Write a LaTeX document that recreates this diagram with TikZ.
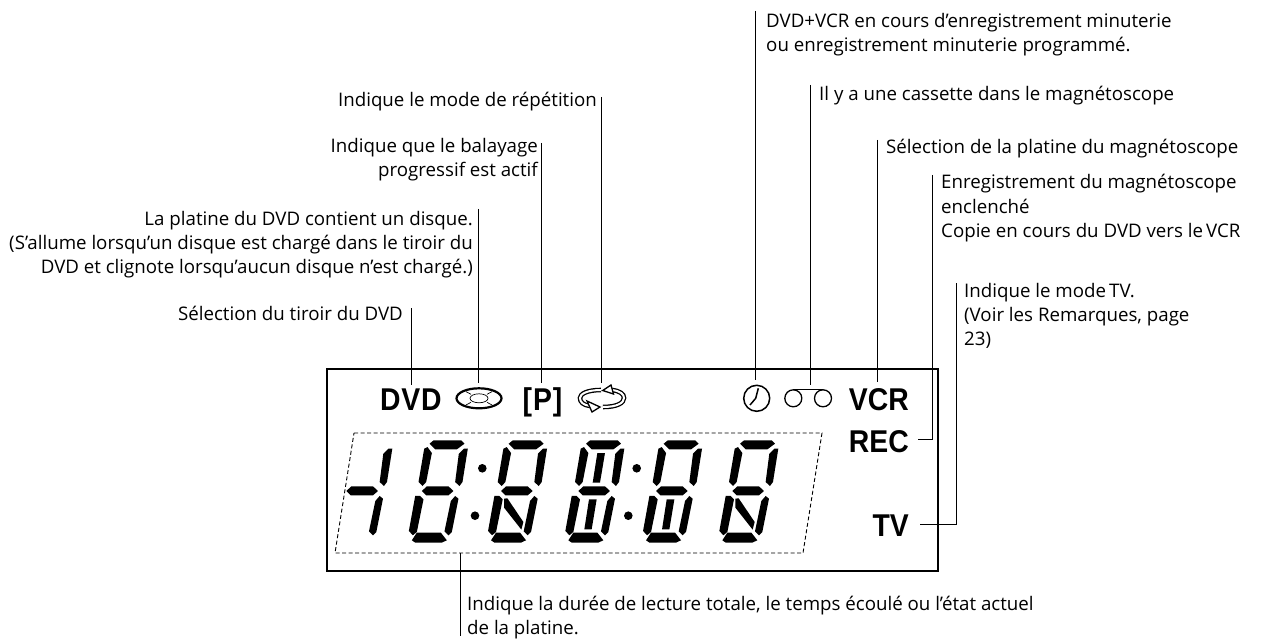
\documentclass[tikz,border=0pt]{standalone}
\usepackage{fontspec}
\setmainfont{Open Sans}
\newfontfamily\lcdfont[FakeStretch=0.9]{Liberation Sans}

\tikzset{
  leader/.style={line width=1pt},
  caption/.style={inner sep=0pt, font=\fontsize{18.7}{24}\selectfont},
  capleft/.style={caption, anchor=base west, align=left},
  capright/.style={caption, anchor=base east, align=right},
  lcdlabel/.style={inner sep=0pt, font=\lcdfont\bfseries\fontsize{31.5}{32}\selectfont},
  iconline/.style={line width=2.2pt},
  ribbon/.style={line width=1.3pt, double=white, double distance=2pt},
}

% segments of one digit, drawn at a scale of 1/3
\newcommand{\segtop}{\fill (-24,-142) -- (-12,-152) -- (71,-152) -- (81,-142) -- (58,-125) -- (-7,-125) -- cycle;}
\newcommand{\segul}{\fill (-40,-127) -- (-30,-132) -- (-17,-114) -- (-34,-27) -- (-45,-15) -- (-57,-27) -- cycle;}
\newcommand{\segur}{\fill (79,-127) -- (91,-127) -- (75,-27) -- (66,-15) -- (53,-27) -- (64,-112) -- cycle;}
\newcommand{\segmid}{\fill (-47,0) -- (-32,-14) -- (33,-14) -- (48,0) -- (33,13) -- (-34,13) -- cycle;}
\newcommand{\segll}{\fill (-67,15) -- (-52,15) -- (-42,25) -- (-62,123) -- (-74,133) -- (-86,120) -- cycle;}
\newcommand{\seglr}{\fill (53,15) -- (63,23) -- (43,123) -- (33,133) -- (21,121) -- (40,30) -- cycle;}
\newcommand{\segbot}{\fill (-77,148) -- (-62,125) -- (10,125) -- (28,148) -- (13,155) -- (-67,155) -- cycle;}
\newcommand{\segdiag}{\fill (-38,23) -- (-28,22) -- (20,93) -- (14,116) -- (-38,50) -- cycle;}
\newcommand{\segbarup}{\fill (10,-114) -- (33,-114) -- (18,-25) -- (-4,-25) -- cycle;}
\newcommand{\segbarlow}{\fill (-15,25) -- (8,25) -- (-7,115) -- (-29,115) -- cycle;}
\newcommand{\segall}{\segtop\segul\segur\segmid\segll\seglr\segbot}

\begin{document}
\begin{tikzpicture}[x=1pt,y=-1pt]
\useasboundingbox (0,0) rectangle (1272,639);

% display
\draw[line width=2.6pt] (327,369) rectangle (938,571);
\draw[line width=0.9pt, dash pattern=on 4pt off 2.5pt] (354,433) -- (822,433) -- (803,553) -- (335,553) -- cycle;

% digits
\begin{scope}[shift={(362,491)}, x=0.333pt, y=-0.333pt] \segur\segmid\seglr \end{scope}
\foreach \digitx in {437.5,516.7,594,671.7,748}
  \begin{scope}[shift={(\digitx,491)}, x=0.333pt, y=-0.333pt] \segall \end{scope};
\begin{scope}[shift={(516.7,491)}, x=0.333pt, y=-0.333pt] \segdiag \end{scope}
\begin{scope}[shift={(594,491)}, x=0.333pt, y=-0.333pt] \segbarup\segbarlow \end{scope}
\begin{scope}[shift={(671.7,491)}, x=0.333pt, y=-0.333pt] \segbarlow \end{scope}
\begin{scope}[shift={(748,491)}, x=0.333pt, y=-0.333pt] \segdiag \end{scope}
\foreach \dotx/\doty in {482.3/468.3,475/515.7,636.7/468.3,628.3/515.7}
  \fill (\dotx,\doty) circle (4.3);

% labels inside the display
\node[lcdlabel, anchor=base west] at (380,410) (dvd) {D\kern0.8pt V\kern0.8pt D};
\node[lcdlabel, anchor=base] at (542.5,410) (prog) {[\kern1pt P\kern1pt]};
\node[lcdlabel, anchor=base east] at (909,410) (vcr) {VCR};
\node[lcdlabel, anchor=base east] at (909,452) (rec) {REC};
\node[lcdlabel, anchor=base east] at (909,536) (tv) {TV};

% disc
\draw[iconline] (479,398.3) ellipse (22.5 and 10);
\draw[line width=0.7pt] (479,398.3) ellipse (9 and 4.5);
\draw[line width=0.7pt] (466,391.6) -- (471,394.3) (492,391.6) -- (487,394.3)
  (466,405) -- (471,402.3) (492,405) -- (487,402.3);

% repeat
\draw[ribbon] (601,390) .. controls (587,390) and (580,394) .. (580,398) .. controls (580,402) and (583,405) .. (590,406);
\draw[ribbon] (603,407) .. controls (617,407) and (624,403) .. (624,398) .. controls (624,394) and (620,391) .. (612,390);
\draw[line width=1.3pt, fill=white] (600,407) -- (587,401) -- (592,412) -- cycle;
\draw[line width=1.3pt, fill=white] (602.7,390.5) -- (611,385) -- (613.5,394) -- cycle;

% clock
\draw[line width=1.5pt] (756.7,398.3) circle (13);
\draw[line width=1.5pt] (758.3,388.3) -- (755.7,398.3) -- (750,405);

% tape
\draw[line width=1.3pt] (793.3,398.3) circle (8.5) (823,398.3) circle (8.5);
\draw[line width=1.3pt] (793.3,389.5) -- (823,389.5);

% captions
\node[capright] at (597,107) (repeatcap) {Indique le mode de répétition};
\node[capright] at (538,177) (progcap) {Indique que le balayage\\progressif est actif};
\node[capright] at (473,273) (disccap) {La platine du DVD contient un disque.\\(S'allume lorsqu'un disque est chargé dans le tiroir du\\DVD et clignote lorsqu'aucun disque n'est chargé.)};
\node[capright] at (403,320) (dvdcap) {Sélection du tiroir du DVD};
\node[capleft] at (766,52) (clockcap) {DVD+VCR en cours d'enregistrement minuterie\\ou enregistrement minuterie programmé.};
\node[capleft] at (819,101) (tapecap) {Il y a une cassette dans le magnétoscope};
\node[capleft] at (886,154) (vcrcap) {Sélection de la platine du magnétoscope};
\node[capleft] at (941,237) (reccap) {Enregistrement du magnétoscope\\enclenché\\Copie en cours du DVD vers le\,VCR};
\node[capleft] at (964,345) (tvcap) {Indique le mode\,TV.\\(Voir les Remarques, page\\23)};
\node[capleft] at (467,634) (timecap) {Indique la durée de lecture totale, le temps écoulé ou l'état actuel\\de la platine.};

% leaders
\coordinate (dvdtop) at (411.5,308);
\coordinate (dvdend) at (411.5,385);
\coordinate (disctop) at (478.5,209);
\coordinate (discend) at (478.5,383);
\coordinate (progtop) at (541.5,143);
\coordinate (progend) at (541.5,383);
\coordinate (repeattop) at (601.5,97);
\coordinate (repeatend) at (601.5,383);
\coordinate (clocktop) at (755.5,11);
\coordinate (clockend) at (755.5,380);
\coordinate (tapetop) at (810.5,85);
\coordinate (tapeend) at (810.5,385);
\coordinate (vcrtop) at (877.5,140);
\coordinate (vcrend) at (877.5,382);
\coordinate (rectop) at (932.5,175);
\coordinate (recend) at (918,439.5);
\coordinate (tvtop) at (956.5,283);
\coordinate (tvend) at (920,524.5);
\coordinate (timetop) at (460.5,553);
\coordinate (timeend) at (460.5,636);
\draw[leader] (dvdtop) -- (dvdend);
\draw[leader] (disctop) -- (discend);
\draw[leader] (progtop) -- (progend);
\draw[leader] (repeattop) -- (repeatend);
\draw[leader] (clocktop) -- (clockend);
\draw[leader] (tapetop) -- (tapeend);
\draw[leader] (vcrtop) -- (vcrend);
\draw[leader] (rectop) |- (recend);
\draw[leader] (tvtop) |- (tvend);
\draw[leader] (timetop) -- (timeend);
\end{tikzpicture}
\end{document}
